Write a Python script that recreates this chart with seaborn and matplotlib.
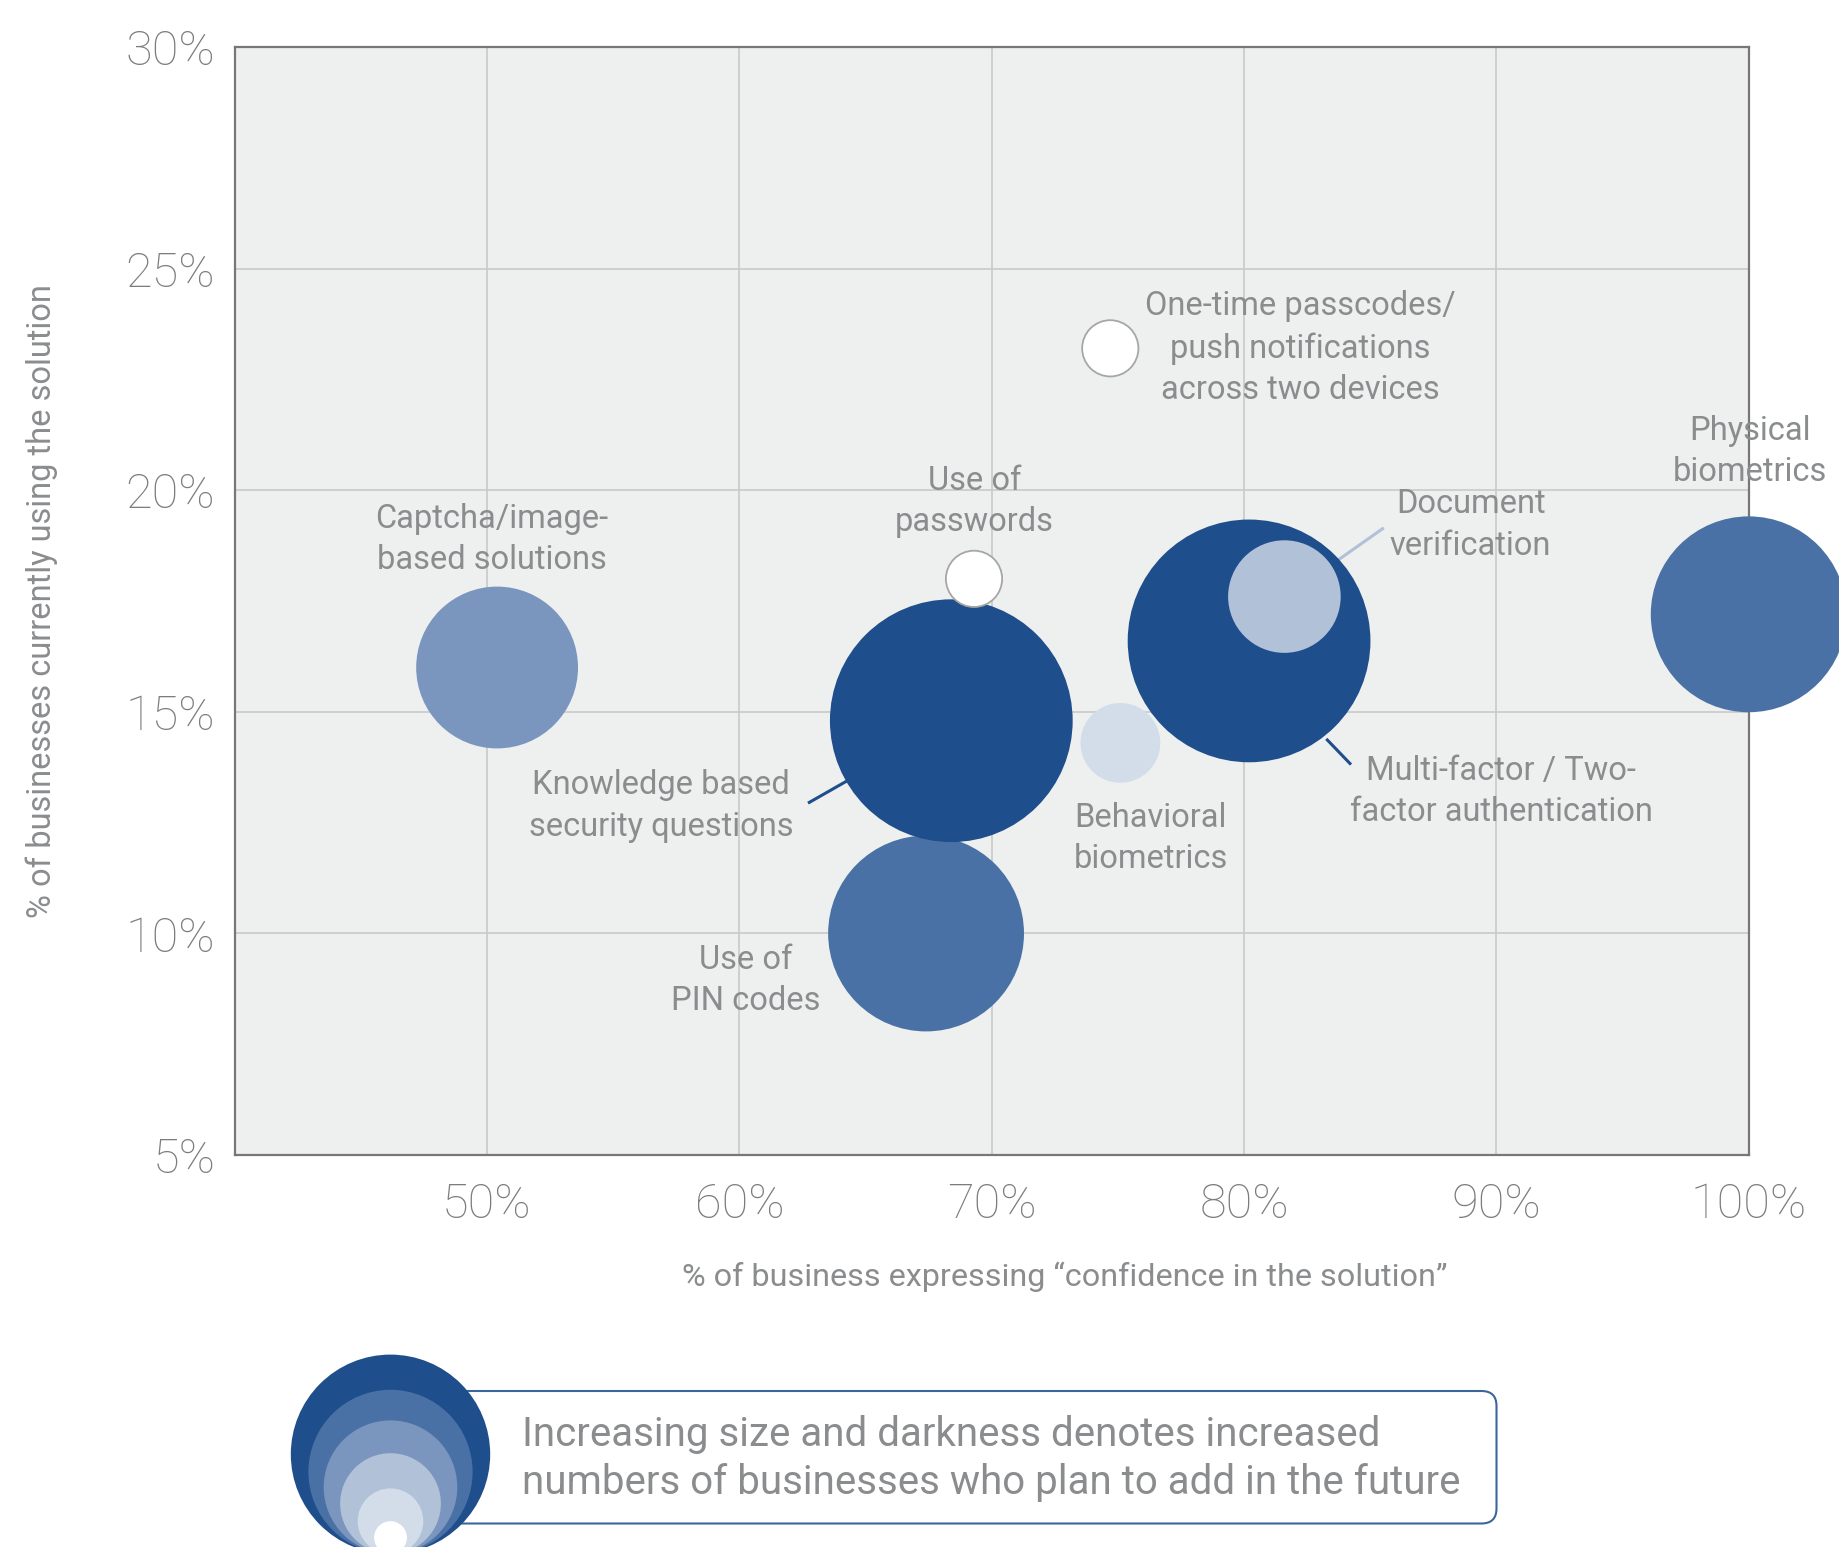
"""Bubble chart: confidence vs current use of authentication solutions"""

import pandas as pd
import matplotlib.pyplot as plt
import seaborn as sns
from matplotlib.patches import Circle, FancyBboxPatch

# Data ##################################################################
solutions = [
    "Use of\nPIN codes",
    "Knowledge based\nsecurity questions",
    "Captcha/image-\nbased solutions",
    "Use of\npasswords",
    "One-time passcodes/\npush notifications\nacross two devices",
    "Behavioral\nbiometrics",
    "Multi-factor / Two-\nfactor authentication",
    "Document\nverification",
    "Physical\nbiometrics",
]
confidence = [67.4, 68.4, 50.4, 69.3, 74.7, 75.1, 80.2, 81.6, 100.0]
current_use = [10.0, 14.8, 16.0, 18.0, 23.2, 14.3, 16.6, 17.6, 17.2]
plan_level = [5, 6, 4, 1, 1, 2, 6, 3, 5]

x_ticks = [50, 60, 70, 80, 90, 100]
y_ticks = [5, 10, 15, 20, 25, 30]

# Styles ################################################################
PALETTE = {1: '#ffffff', 2: '#d3dde9', 3: '#b0c1d8',
           4: '#7a96be', 5: '#4a71a5', 6: '#1f4e8c'}
SIZES = {1: 1641, 2: 3297, 3: 6571, 4: 13577, 5: 19885, 6: 30547}
GREY = '#8a8c8e'
BG = '#eef0ef'

# label anchor (data coords) for each solution
LABEL_POS = [(60.26, 8.94), (56.91, 12.88), (50.18, 18.89), (69.32, 19.74),
             (82.24, 23.20), (76.29, 12.14), (90.19, 13.20), (88.98, 19.21),
             (100.04, 20.87)]
# leader lines (x0, y0, x1, y1, colour)
LEADERS = [(62.72, 12.94, 64.6, 13.55, '#1f4e8c'),
           (83.26, 14.39, 84.24, 13.81, '#1f4e8c'),
           (83.49, 18.33, 85.54, 19.15, '#b0c1d8')]

df = pd.DataFrame({'solution': solutions, 'confidence': confidence,
                   'current_use': current_use, 'plan_level': plan_level})

sns.set_theme(style='whitegrid')
plt.rcParams['font.family'] = ['Roboto', 'DejaVu Sans']

fig = plt.figure(figsize=(18.39, 15.47), dpi=100)
ax = fig.add_axes([0.1276, 0.2533, 0.8233, 0.7164])
ax.set_facecolor(BG)

for x0, y0, x1, y1, col in LEADERS:
    ax.plot([x0, x1], [y0, y1], color=col, lw=2.2, zorder=2, solid_capstyle='butt')

sns.scatterplot(data=df, x='confidence', y='current_use', hue='plan_level',
                size='plan_level', palette=PALETTE, sizes=SIZES, legend=False,
                linewidth=0, clip_on=False, zorder=3, ax=ax)
coll = ax.collections[0]
coll.set_edgecolors(['#a6a6a6' if lv == 1 else 'none' for lv in plan_level])
coll.set_linewidths([1.3 if lv == 1 else 0 for lv in plan_level])

for name, (lx, ly) in zip(solutions, LABEL_POS):
    ax.text(lx, ly, name, ha='center', va='center', fontsize=23.5,
            color=GREY, linespacing=1.38, zorder=4)

ax.set_xlim(40, 100)
ax.set_ylim(5, 30)
ax.set_xticks(x_ticks)
ax.set_yticks(y_ticks)
ax.set_xticklabels([f'{t}%' for t in x_ticks])
ax.set_yticklabels([f'{t}%' for t in y_ticks])
ax.tick_params(axis='both', length=0, labelsize=35, labelcolor='#7a7c7e')
ax.tick_params(axis='x', pad=19)
ax.tick_params(axis='y', pad=14)
plt.setp(ax.get_xticklabels() + ax.get_yticklabels(), fontweight='light')
ax.set_xlabel('')
ax.set_ylabel('')
ax.grid(color='#c9c9c9', linewidth=1.2)
for sp in ax.spines.values():
    sp.set_color('#777777')
    sp.set_linewidth(1.6)

fig.text(0.579, 0.1745, '% of business expressing \u201cconfidence in the solution\u201d',
         ha='center', va='center', fontsize=23.3, color=GREY)
fig.text(0.0229, 0.6115, '% of businesses currently using the solution',
         ha='center', va='center', rotation=90, fontsize=23.5, color=GREY)

# Size legend ###########################################################
tr = fig.dpi_scale_trans
box = FancyBboxPatch((3.9, 0.235), 14.965 - 3.9, 1.56 - 0.235,
                     boxstyle='round,pad=0,rounding_size=0.15', transform=tr,
                     facecolor='white', edgecolor='#3d659c', linewidth=1.5)
fig.add_artist(box)
cx, base = 3.905, -0.07
for lv, r in zip([6, 5, 4, 3, 2, 1], [0.997, 0.821, 0.668, 0.504, 0.328, 0.164]):
    fig.add_artist(Circle((cx, base + r), r, transform=tr,
                          facecolor=PALETTE[lv], edgecolor='none'))
fig.text(5.22, 0.885, 'Increasing size and darkness denotes increased\n'
         'numbers of businesses who plan to add in the future',
         transform=tr, ha='left', va='center', fontsize=29, color=GREY,
         linespacing=1.26)

fig.savefig('out.png', dpi=100, facecolor='white')
